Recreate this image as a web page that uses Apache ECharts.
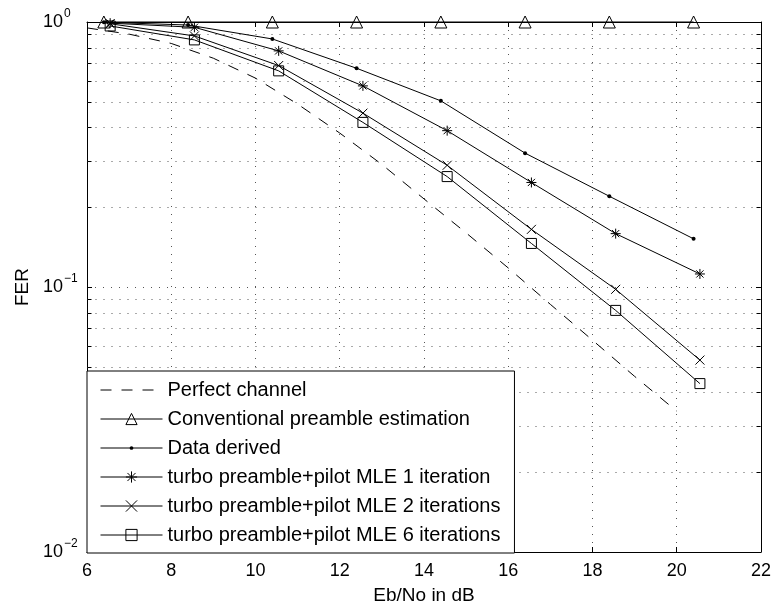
<!DOCTYPE html>
<html>
<head>
<meta charset="utf-8">
<script src="https://cdn.jsdelivr.net/npm/echarts@6/dist/echarts.min.js"></script>
<style>
  html, body { margin: 0; padding: 0; background: #fff; }
  #chart { width: 774px; height: 610px; }
</style>
</head>
<body>
<div id="chart"></div>
<script>
  // Eb/No (dB) values
  var ebnoPerfect = [6, 7, 8, 9, 10, 11, 12, 13, 14, 15, 16, 17, 18, 19, 20];
  var ebnoA = [6.4, 8.4, 10.4, 12.4, 14.4, 16.4, 18.4, 20.4];
  var ebnoB = [6.55, 8.55, 10.55, 12.55, 14.55, 16.55, 18.55, 20.55];

  // FER values
  var perfectChannel = [0.95, 0.90, 0.83, 0.73, 0.614, 0.49, 0.381, 0.29, 0.215, 0.16, 0.118, 0.086, 0.063, 0.046, 0.034];
  var conventional = [1, 1, 1, 1, 1, 1, 1, 1];
  var dataDerived = [0.998, 0.974, 0.863, 0.669, 0.504, 0.320, 0.220, 0.152];
  var turbo1 = [0.99, 0.955, 0.778, 0.574, 0.389, 0.248, 0.159, 0.112];
  var turbo2 = [0.985, 0.886, 0.685, 0.453, 0.288, 0.165, 0.098, 0.053];
  var turbo6 = [0.966, 0.856, 0.654, 0.418, 0.261, 0.146, 0.0816, 0.0432];

  var seriesNames = [
    'Perfect channel',
    'Conventional preamble estimation',
    'Data derived',
    'turbo preamble+pilot MLE 1 iteration',
    'turbo preamble+pilot MLE 2 iterations',
    'turbo preamble+pilot MLE 6 iterations'
  ];

  // axis ticks
  var xMin = 6, xMax = 22, xStep = 2;
  var yTicks = [0.01, 0.1, 1];
  var yTickExp = ['\u22122', '\u22121', '0'];
  var yMinor = [0.02, 0.03, 0.04, 0.05, 0.06, 0.07, 0.08, 0.09, 0.2, 0.3, 0.4, 0.5, 0.6, 0.7, 0.8, 0.9];

  function pairs(xs, ys) {
    return xs.map(function (x, i) { return [x, ys[i]]; });
  }

  var FONT = '"Liberation Sans", Arial, sans-serif';
  var clear = 'rgba(0,0,0,0)';
  var dotted = [1, 7];

  var starPath = 'path://M0 -1L0 1M-1 0L1 0M-0.72 -0.72L0.72 0.72M-0.72 0.72L0.72 -0.72';
  var crossPath = 'path://M-1 -1L1 1M-1 1L1 -1';
  var dotPath = 'path://M-3 -3M3 3M0 -1A1 1 0 1 1 0 1A1 1 0 1 1 0 -1Z';

  function lineSeries(name, data, symbol, size, itemStyle, lineType) {
    return {
      name: name,
      type: 'line',
      data: data,
      symbol: symbol,
      symbolSize: size,
      showSymbol: symbol !== 'circle',
      clip: false,
      z: 3,
      lineStyle: { color: '#000', width: 1, type: lineType || 'solid' },
      itemStyle: itemStyle,
      emphasis: { disabled: true }
    };
  }

  var hollow = { color: clear, borderColor: '#000', borderWidth: 1 };

  var chart = echarts.init(document.getElementById('chart'));
  chart.setOption({
    animation: false,
    textStyle: { fontFamily: FONT, color: '#000' },
    grid: { left: 87, right: 13, top: 22, bottom: 57 },
    xAxis: [{
      type: 'value', min: xMin, max: xMax, interval: xStep, position: 'bottom',
      name: 'Eb/No in dB', nameLocation: 'middle', nameGap: 34,
      nameTextStyle: { fontSize: 19, color: '#000', fontFamily: FONT },
      axisLine: { lineStyle: { color: '#000', width: 1 } },
      axisTick: { inside: true, length: 5, lineStyle: { color: '#000' } },
      axisLabel: { fontSize: 18, color: '#000', margin: 10, fontFamily: FONT },
      splitLine: { show: true, lineStyle: { color: '#555', width: 1, type: dotted } }
    }, {
      type: 'value', min: xMin, max: xMax, interval: xStep, position: 'top',
      axisLine: { lineStyle: { color: '#000', width: 1 } },
      axisTick: { inside: true, length: 5, lineStyle: { color: '#000' } },
      axisLabel: { show: false },
      splitLine: { show: false }
    }],
    yAxis: [{
      type: 'log', logBase: 10, min: 0.01, max: 1, position: 'left',
      name: 'FER', nameLocation: 'middle', nameGap: 55,
      nameTextStyle: { fontSize: 19, color: '#000', fontFamily: FONT },
      axisLine: { lineStyle: { color: '#000', width: 1 } },
      axisTick: { inside: true, length: 5, lineStyle: { color: '#000' } },
      axisLabel: {
        margin: 44, align: 'left', fontFamily: FONT,
        formatter: function (v) {
          var i = yTicks.findIndex(function (t) { return Math.abs(t - v) / t < 1e-6; });
          return '{b|10}{s|' + (i >= 0 ? yTickExp[i] : '') + '}';
        },
        rich: {
          b: { fontSize: 18, color: '#000', fontFamily: FONT },
          s: { fontSize: 12, color: '#000', fontFamily: FONT, padding: [0, 0, 16, 1] }
        }
      },
      splitLine: { show: true, lineStyle: { color: '#555', width: 1, type: dotted } }
    }, {
      type: 'log', logBase: 10, min: 0.01, max: 1, position: 'right',
      axisLine: { lineStyle: { color: '#000', width: 1 } },
      axisTick: { inside: true, length: 5, lineStyle: { color: '#000' } },
      axisLabel: { show: false },
      splitLine: { show: false }
    }],
    legend: {
      orient: 'vertical',
      left: 87,
      bottom: 57,
      data: seriesNames,
      selectedMode: false,
      itemWidth: 62,
      itemHeight: 14,
      itemGap: 9,
      padding: [9, 14, 8, 13],
      backgroundColor: '#fff',
      borderColor: '#000',
      borderWidth: 1,
      borderRadius: 0,
      lineStyle: { width: 1 },
      itemStyle: { borderWidth: 1 },
      textStyle: { fontSize: 20, color: '#000', fontFamily: FONT },
      z: 10
    },
    series: [
      {
        name: 'minor grid',
        type: 'custom',
        silent: true,
        z: 1,
        data: yMinor.map(function (v) { return [xMin, v]; }),
        encode: { x: 0, y: 1 },
        renderItem: function (params, api) {
          var v = api.value(1);
          var a = api.coord([xMin, v]);
          var b = api.coord([xMax, v]);
          var y = Math.round(a[1]) + 0.5;
          var x1 = Math.round(a[0]) + 0.5, x2 = Math.round(b[0]) - 0.5;
          return {
            type: 'group',
            children: [
              { type: 'line', shape: { x1: x1, y1: y, x2: x2, y2: y }, style: { stroke: '#555', lineWidth: 1, lineDash: dotted } },
              { type: 'line', shape: { x1: x1, y1: y, x2: x1 + 4, y2: y }, style: { stroke: '#000', lineWidth: 1 } },
              { type: 'line', shape: { x1: x2 - 4, y1: y, x2: x2, y2: y }, style: { stroke: '#000', lineWidth: 1 } }
            ]
          };
        }
      },
      lineSeries(seriesNames[0], pairs(ebnoPerfect, perfectChannel), 'circle', 0, { color: clear, borderWidth: 0 }, [11, 10]),
      lineSeries(seriesNames[1], pairs(ebnoA, conventional), 'triangle', 12, hollow),
      lineSeries(seriesNames[2], pairs(ebnoA, dataDerived), dotPath, 12, { color: '#000', borderWidth: 0 }),
      lineSeries(seriesNames[3], pairs(ebnoB, turbo1), starPath, 10, hollow),
      lineSeries(seriesNames[4], pairs(ebnoB, turbo2), crossPath, 9, hollow),
      lineSeries(seriesNames[5], pairs(ebnoB, turbo6), 'rect', 10, hollow)
    ]
  });
</script>
</body>
</html>
